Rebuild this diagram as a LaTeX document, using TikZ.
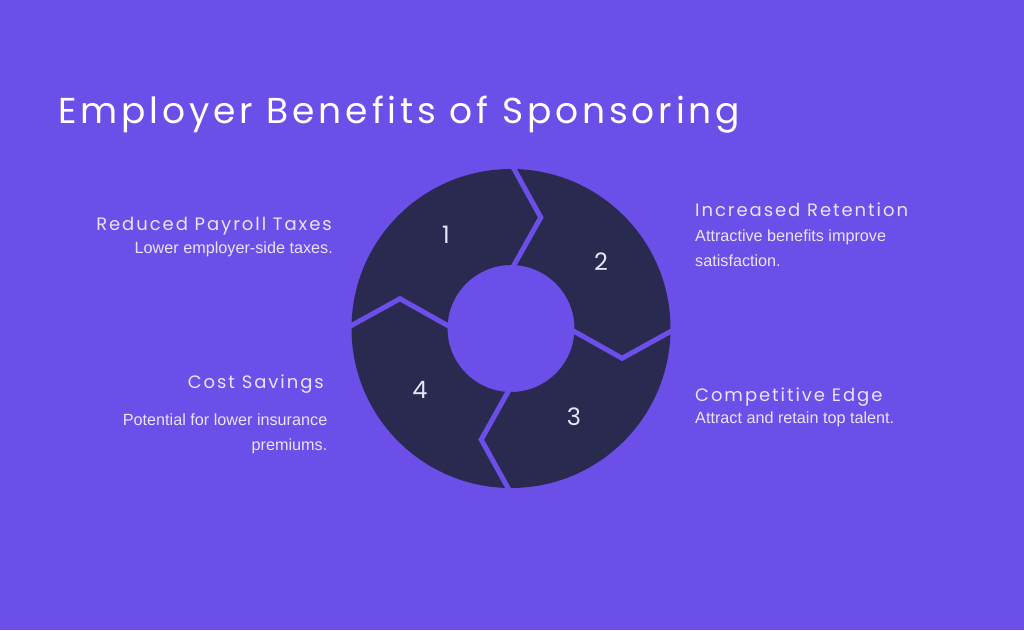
\documentclass[tikz,border=0pt]{standalone}
\usepackage{fontspec}
\setmainfont{Liberation Sans}
\newfontfamily\headfont[LetterSpace=10.8]{Poppins}
\usetikzlibrary{positioning}
\definecolor{bgpurple}{HTML}{6B4FE8}
\definecolor{ringdark}{HTML}{2A2A50}
\definecolor{softwhite}{HTML}{E8E4FA}

\begin{document}
\begin{tikzpicture}[line cap=round,line join=round,x=1pt,y=1pt,
  head/.style={font=\headfont\fontsize{18}{22}\selectfont,text=softwhite,inner sep=0pt},
  desc/.style={font=\fontsize{16.2}{25}\selectfont,text=softwhite,inner sep=0pt},
  num/.style={font=\headfont\fontsize{24}{28}\selectfont,text=softwhite,inner sep=0pt}]
\fill[bgpurple] (0,0) rectangle (1024,630);
\useasboundingbox (0,0) rectangle (1024,630);
\node[anchor=base west,inner sep=0pt,text=white,font=\headfont\fontsize{36}{43}\selectfont] (title) at (58,506.5) {Employer Benefits of Sponsoring};
% ring
\coordinate (c) at (511,301.5);
\fill[ringdark,even odd rule] (c) circle (159.5) (c) circle (63.5);
\foreach \a in {90,0,-90,180}
\draw[shift={(c)},bgpurple,line width=5pt,line cap=butt,line join=miter] (\a:58) -- (\a-15:115) -- (\a:165);
\node[num] (n1) at (446,395) {1};
\node[num] (n2) at (601,368) {2};
\node[num] (n3) at (574,213) {3};
\node[num] (n4) at (420,240) {4};
% left texts
\node[head,anchor=base east] (h1) at (332,399) {Reduced Payroll Taxes};
\node[desc,anchor=base east] (d1) at (333,377) {Lower employer-side taxes.};
\node[head,anchor=base east] (h4) at (324,241.7) {Cost Savings};
\node[desc,anchor=base east,align=right] (d4) at (327.5,180) {Potential for lower insurance\\premiums.};
% right texts
\node[head,anchor=base west] (h2) at (695,413.3) {Increased Retention};
\node[desc,anchor=base west,align=left] (d2) at (695,363.3) {Attractive benefits improve\\satisfaction.};
\node[head,anchor=base west] (h3) at (695,228.3) {Competitive Edge};
\node[desc,anchor=base west] (d3) at (695,206.7) {Attract and retain top talent.};
\end{tikzpicture}
\end{document}
